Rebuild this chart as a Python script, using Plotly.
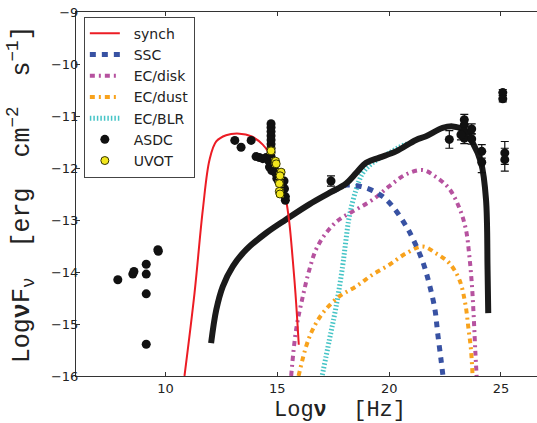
import plotly.graph_objects as go

# ---------------- data ----------------
synch_x = [10.85, 11.30, 11.67, 11.97, 12.27, 12.71, 13.31, 13.83, 14.35, 14.80, 15.17, 15.39, 15.54, 15.69, 15.81, 15.91, 15.96]
synch_y = [-16.0, -14.40, -12.80, -11.84, -11.49, -11.37, -11.34, -11.39, -11.55, -11.84, -12.22, -12.61, -13.06, -13.76, -14.40, -15.05, -15.40]

total_x = [12.04, 12.27, 12.56, 13.01, 13.61, 14.50, 15.39, 16.43, 17.33, 18.07, 18.52, 18.97, 19.56, 20.31, 21.20, 21.65, 22.39, 22.84, 23.29, 23.74, 24.11, 24.33, 24.40, 24.43]
total_y = [-15.37, -14.73, -14.28, -13.89, -13.57, -13.25, -12.99, -12.70, -12.48, -12.30, -12.10, -11.90, -11.80, -11.68, -11.46, -11.39, -11.23, -11.20, -11.26, -11.52, -11.90, -12.60, -13.96, -14.79]

ssc_x = [17.5, 18.1, 18.67, 19.19, 19.71, 20.16, 20.76, 21.05, 21.50, 21.80, 22.05, 22.17, 22.32, 22.42]
ssc_y = [-12.45, -12.33, -12.35, -12.42, -12.55, -12.74, -13.12, -13.35, -13.80, -14.24, -14.73, -15.18, -15.69, -16.05]

disk_x = [15.62, 15.84, 16.14, 16.43, 16.73, 17.18, 17.77, 18.52, 19.26, 20.01, 20.76, 21.50, 22.09, 22.69, 23.14, 23.43, 23.58, 23.70, 23.78, 23.85, 23.91]
disk_y = [-16.0, -15.11, -14.47, -13.96, -13.57, -13.25, -12.99, -12.80, -12.61, -12.35, -12.12, -12.04, -12.17, -12.40, -12.77, -13.18, -13.67, -14.25, -14.85, -15.50, -16.0]

dust_x = [15.95, 16.29, 16.58, 17.03, 17.77, 18.52, 19.26, 20.01, 20.76, 21.50, 22.09, 22.69, 23.14, 23.40, 23.55, 23.66, 23.73]
dust_y = [-16.0, -15.43, -15.11, -14.79, -14.47, -14.28, -14.05, -13.86, -13.64, -13.51, -13.64, -13.83, -14.15, -14.60, -15.10, -15.50, -16.0]

blr_x = [16.98, 17.33, 17.63, 17.92, 18.07, 18.22, 18.52, 18.82, 19.26, 20.01, 20.46, 20.90]
blr_y = [-16.05, -15.30, -14.66, -13.89, -13.38, -12.93, -12.42, -12.10, -11.90, -11.71, -11.60, -11.52]

asdc_x = [7.87, 8.54, 8.59, 9.14, 9.14, 9.14, 9.14, 9.66, 9.68,
          13.10, 13.38, 13.83, 14.05, 14.20, 14.35, 14.50, 14.60,
          14.72, 14.72, 14.72, 14.72, 14.72, 14.72, 14.72, 14.72, 14.72,
          14.65, 14.75, 14.80, 14.87, 14.93, 14.98, 15.05, 15.20, 15.30, 15.32, 15.36, 15.36,
          17.40,
          22.69, 23.36, 23.36, 23.36, 23.36, 23.21, 23.69, 23.69, 24.14, 24.14,
          25.08, 25.08, 25.17, 25.17]
asdc_y = [-14.15, -14.04, -13.99, -13.85, -14.04, -14.42, -15.39, -13.57, -13.60,
          -11.47, -11.60, -11.47, -11.78, -11.80, -11.82, -11.80, -11.85,
          -11.15, -11.22, -11.30, -11.38, -11.46, -11.54, -11.62, -11.70, -11.78,
          -11.98, -12.05, -11.95, -12.02, -12.10, -12.20, -12.25, -12.30, -12.25, -12.40, -12.55, -12.62,
          -12.25,
          -11.45, -11.07, -11.17, -11.30, -11.43, -11.36, -11.25, -11.44, -11.68, -11.89,
          -10.55, -10.67, -11.71, -11.84]
asdc_err = [0, 0, 0, 0, 0, 0, 0, 0, 0,
            0, 0, 0, 0, 0, 0, 0, 0,
            0, 0, 0, 0, 0, 0, 0, 0, 0,
            0, 0, 0, 0, 0, 0, 0, 0, 0, 0, 0, 0,
            0.10,
            0.17, 0.10, 0.10, 0.10, 0.10, 0.10, 0.10, 0.10, 0.13, 0.20,
            0.06, 0.06, 0.22, 0.22]

uvot_x = [14.72, 14.92, 14.95, 15.17, 15.12, 15.09, 15.09, 15.12]
uvot_y = [-11.67, -11.87, -11.92, -12.08, -12.15, -12.30, -12.45, -12.50]
uvot_err = [0.05, 0.05, 0.05, 0.05, 0.05, 0.05, 0.05, 0.05]

x_ticks = [10, 15, 20, 25]
y_ticks = [-16, -15, -14, -13, -12, -11, -10, -9]

# ---------------- figure ----------------
fig = go.Figure()
NB = "\u00a0\u00a0"

def curve(x, y, name, color, width, dash, rank, show=True):
    fig.add_trace(go.Scatter(
        x=x, y=y, mode="lines", name=NB + name, showlegend=show, legendrank=rank,
        line=dict(color=color, width=width, dash=dash, shape="spline", smoothing=1.0),
        hoverinfo="skip"))

curve(blr_x, blr_y, "EC/BLR", "#45c4c6", 5, "1.5px,2px", 5)
curve(disk_x, disk_y, "EC/disk", "#b6529f", 4, "5px,4px,2px,4px", 3)
curve(dust_x, dust_y, "EC/dust", "#f8a21c", 4, "5px,4px,2px,4px", 4)
curve(ssc_x, ssc_y, "SSC", "#3852a3", 5, "6px,6px", 2)
curve(total_x, total_y, "total", "#1a1a1a", 6, "solid", 10, show=False)
curve(synch_x, synch_y, "synch", "#ec1c24", 2, "solid", 1)

fig.add_trace(go.Scatter(
    x=asdc_x, y=asdc_y, mode="markers", name=NB + "ASDC", legendrank=6,
    marker=dict(color="#111111", size=9, line=dict(width=0)),
    error_y=dict(type="data", array=asdc_err, color="#111111", thickness=1.2, width=4),
    hoverinfo="skip"))
fig.add_trace(go.Scatter(
    x=uvot_x, y=uvot_y, mode="markers", name=NB + "UVOT", legendrank=7,
    marker=dict(color="#f2e61c", size=8, line=dict(width=1, color="#333300")),
    error_y=dict(type="data", array=uvot_err, color="#f2e61c", thickness=1.2, width=4),
    hoverinfo="skip"))

axis_common = dict(showline=True, linecolor="#333333", linewidth=1, ticks="inside",
                   ticklen=4, tickcolor="#333333", showgrid=False, zeroline=False,
                   tickfont=dict(family="DejaVu Sans", size=13, color="#222222"))

xtitle_font = dict(family="Liberation Mono, Courier New, monospace", size=22, color="#222222")
ytitle_font = dict(family="Liberation Mono, Courier New, monospace", size=25, color="#222222")

fig.update_layout(
    width=537, height=423,
    margin=dict(l=76, r=0, t=12, b=47),
    paper_bgcolor="white", plot_bgcolor="white",
    xaxis=dict(range=[6, 26.61], tickvals=x_ticks, mirror="ticks", **axis_common),
    yaxis=dict(range=[-16, -9], tickvals=y_ticks, mirror=False, ticklabelstandoff=-6, **axis_common),
    legend=dict(x=0.017, y=0.987, xanchor="left", yanchor="top",
                bordercolor="#444444", borderwidth=1, bgcolor="white",
                entrywidth=62, entrywidthmode="pixels",
                font=dict(family="DejaVu Sans", size=14, color="#222222"),
                tracegroupgap=0),
    showlegend=True,
    annotations=[
        dict(text="Log<b>ν</b>  [Hz]", xref="paper", yref="paper", x=0.573, y=-0.096,
             xanchor="center", yanchor="middle", showarrow=False, font=xtitle_font),
        dict(text="Log<b>ν</b>F<sub>ν</sub>  [erg  cm<sup>−2</sup>  s<sup>−1</sup>]",
             xref="paper", yref="paper", x=-0.119, y=0.5, textangle=-90,
             xanchor="center", yanchor="middle", showarrow=False, font=ytitle_font),
    ],
)

fig.write_html("out.html", config={"displayModeBar": False},
               post_script="document.body.style.margin='0px';document.body.style.overflow='hidden';")
